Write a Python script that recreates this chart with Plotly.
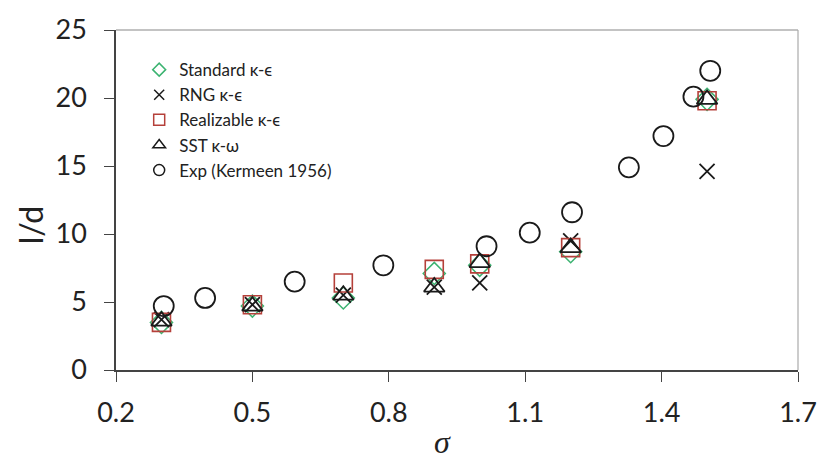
import plotly.graph_objects as go

# ---- data ----
sigma_cfd = [0.3, 0.5, 0.7, 0.9, 1.0, 1.2, 1.5]
standard_ke = [3.5, 4.7, 5.3, 7.1, 7.7, 8.7, 19.9]
rng_ke = [3.7, 4.8, 5.5, 6.1, 6.4, 9.5, 14.6]
realizable_ke = [3.5, 4.8, 6.4, 7.4, 7.8, 9.0, 19.8]
sst_kw = [3.6, 4.7, 5.5, 6.1, 7.9, 9.0, 19.9]

sigma_exp = [0.305, 0.396, 0.593, 0.788, 1.015, 1.11, 1.203, 1.328, 1.404, 1.470, 1.507]
exp_kermeen = [4.7, 5.3, 6.5, 7.7, 9.1, 10.1, 11.6, 14.9, 17.2, 20.1, 22.0]

x_ticks = [0.2, 0.5, 0.8, 1.1, 1.4, 1.7]
y_ticks = [0, 5, 10, 15, 20, 25]

names = ["Standard κ-ϵ", "RNG κ-ϵ", "Realizable κ-ϵ", "SST κ-ω", "Exp (Kermeen 1956)"]

GREEN = "#3cb371"
RED = "#b5403a"
BLACK = "#1a1a1a"

series = [
    (sigma_cfd, standard_ke, "diamond-open", 17, GREEN, 1.5, 10),
    (sigma_cfd, rng_ke, "x-thin-open", 15, BLACK, 1.8, 10),
    (sigma_cfd, realizable_ke, "square-open", 18, RED, 1.6, 11),
    (sigma_cfd, sst_kw, "triangle-up-open", 18, BLACK, 1.8, 11),
    (sigma_exp, exp_kermeen, "circle-open", 20, BLACK, 1.8, 11),
]

fig = go.Figure()
for (xs, ys, sym, size, col, lw, lsize), nm in zip(series, names):
    fig.add_trace(go.Scatter(
        x=xs, y=ys, mode="markers", name=nm, showlegend=False,
        marker=dict(symbol=sym, size=size, color=col, line=dict(color=col, width=lw)),
    ))
for (xs, ys, sym, size, col, lw, lsize), nm in zip(series, names):
    fig.add_trace(go.Scatter(
        x=[None], y=[None], mode="markers", name=nm, showlegend=True,
        marker=dict(symbol=sym, size=lsize, color=col, line=dict(color=col, width=1.5)),
    ))

FONT = "Lato"
fig.update_layout(
    width=829, height=462,
    margin=dict(l=116, r=23, t=20, b=92),
    paper_bgcolor="white", plot_bgcolor="white",
    font=dict(family=FONT, color="#222222"),
    legend=dict(x=0.034, y=0.935, xanchor="left", yanchor="top",
                bgcolor="rgba(0,0,0,0)", font=dict(size=17, family=FONT, color="#222222"),
                itemwidth=30, tracegroupgap=0),
    xaxis=dict(range=[0.2, 1.7], tickvals=x_ticks, ticktext=[f"{v:.1f}" for v in x_ticks],
               showgrid=False, zeroline=False, showline=True, linecolor="#444444", linewidth=1.5,
               ticks="outside", ticklen=10, tickwidth=1.2, tickcolor="#444444",
               tickfont=dict(size=27, family=FONT, color="#222222"), ticklabelstandoff=8),
    yaxis=dict(range=[0, 25], tickvals=y_ticks,
               showgrid=False, zeroline=False, showline=True, linecolor="#444444", linewidth=1.5,
               ticks="outside", ticklen=10, tickwidth=1.2, tickcolor="#444444",
               tickfont=dict(size=27, family=FONT, color="#222222"), ticklabelstandoff=12),
)

# border of the plot area (top / right)
fig.add_shape(type="line", xref="paper", yref="paper", x0=0, x1=1, y0=1, y1=1,
              line=dict(color="#888888", width=1.2))
fig.add_shape(type="line", xref="paper", yref="paper", x0=1, x1=1, y0=0, y1=1,
              line=dict(color="#aaaaaa", width=1.2))

# axis titles
fig.add_annotation(text="l/d", xref="paper", yref="paper", x=-0.125, y=0.425,
                   xanchor="center", yanchor="middle", textangle=-90, showarrow=False,
                   font=dict(size=32, family=FONT, color="#222222"))
fig.add_annotation(text="<i>σ</i>", xref="paper", yref="paper", x=0.479, y=-0.212,
                   xanchor="center", yanchor="middle", showarrow=False,
                   font=dict(size=32, family="Liberation Serif", color="#222222"))

fig.write_html("out.html")
